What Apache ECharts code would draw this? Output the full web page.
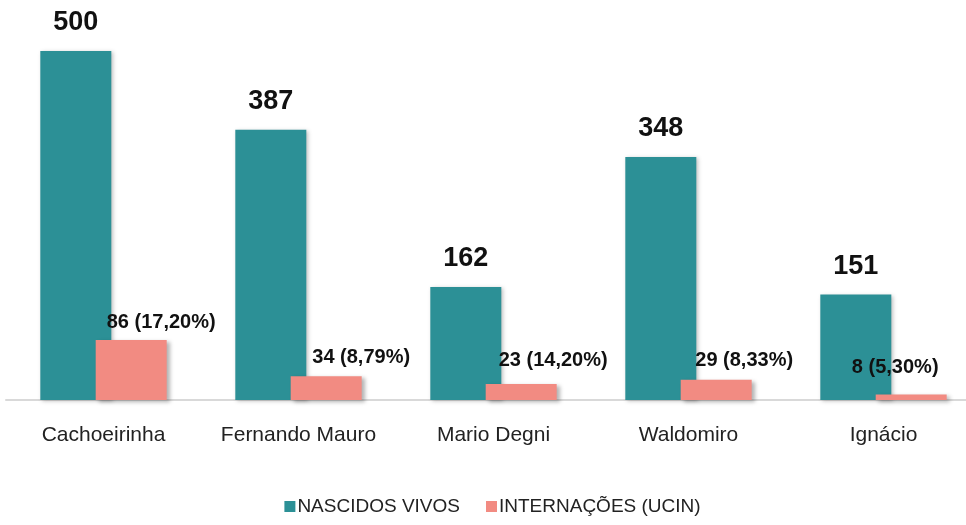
<!DOCTYPE html>
<html>
<head>
<meta charset="utf-8">
<script src="https://cdn.jsdelivr.net/npm/echarts@6/dist/echarts.min.js"></script>
<style>
  html, body { margin: 0; padding: 0; background: #fff; overflow: hidden; }
  #main { width: 985px; height: 525px; }
</style>
</head>
<body>
<div id="main"></div>
<script>
var myChart = echarts.init(document.getElementById('main'));

var categories = ['Cachoeirinha', 'Fernando Mauro', 'Mario Degni', 'Waldomiro', 'Ignácio'];
var nascidos = [500, 387, 162, 348, 151];
var internacoes = [86, 34, 23, 29, 8];
var percentuais = ['17,20%', '8,79%', '14,20%', '8,33%', '5,30%'];

// where each salmon label sits relative to its bar
var labelShift = [[30, -2], [35, -4], [32, -8], [28, -4], [-16, -12]];

var font = '"Liberation Sans", Arial, sans-serif';

option = {
    backgroundColor: '#ffffff',
    textStyle: { fontFamily: font },
    legend: {
        bottom: 4,
        left: 'center',
        itemWidth: 11,
        itemHeight: 11,
        itemGap: 26,
        icon: 'rect',
        textStyle: { color: '#222', fontSize: 19, fontFamily: font, padding: [0, 0, 0, -3] },
        data: ['NASCIDOS VIVOS', 'INTERNAÇÕES (UCIN)']
    },
    grid: { left: 6, top: 51, width: 975, height: 349 },
    xAxis: {
        type: 'category',
        data: categories,
        axisTick: { show: false },
        axisLine: { lineStyle: { color: '#d9d9d9', width: 2 } },
        axisLabel: { interval: 0, color: '#222', fontSize: 21, margin: 25, fontFamily: font }
    },
    yAxis: {
        type: 'value',
        min: 0,
        max: 500,
        show: false,
        splitLine: { show: false }
    },
    series: [
        {
            name: 'NASCIDOS VIVOS',
            type: 'bar',
            barWidth: 71,
            barGap: '-22%',
            itemStyle: {
                color: '#2c9096',
                shadowColor: 'rgba(0,0,0,0.25)',
                shadowBlur: 4,
                shadowOffsetX: 2,
                shadowOffsetY: 1
            },
            label: {
                show: true,
                position: 'top',
                distance: 15,
                color: '#111',
                fontSize: 27,
                fontWeight: 'bold',
                fontFamily: font
            },
            data: nascidos
        },
        {
            name: 'INTERNAÇÕES (UCIN)',
            type: 'bar',
            barWidth: 71,
            itemStyle: {
                color: '#f28b82',
                shadowColor: 'rgba(0,0,0,0.3)',
                shadowBlur: 4,
                shadowOffsetX: 3,
                shadowOffsetY: 2
            },
            label: {
                show: true,
                position: 'top',
                distance: 5,
                color: '#111',
                fontSize: 20,
                fontWeight: 'bold',
                fontFamily: font
            },
            data: internacoes.map(function (v, i) {
                return {
                    value: v,
                    label: {
                        offset: labelShift[i],
                        formatter: v + ' (' + percentuais[i] + ')'
                    }
                };
            })
        }
    ]
};

myChart.setOption(option);
</script>
</body>
</html>
